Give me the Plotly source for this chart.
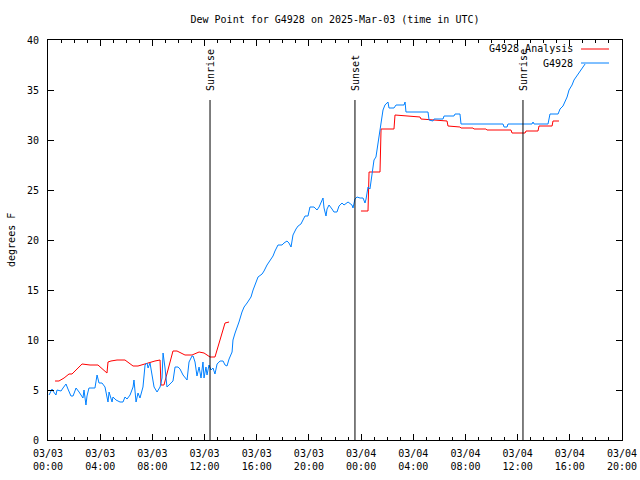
import plotly.graph_objects as go

# Observed dew point (G4928): hours since 2025-03-03 00:00 UTC, degrees F
obs_hours = [0.08, 0.31, 0.38, 0.61, 0.69, 1.00, 1.15, 1.38, 1.53, 1.76, 1.92, 2.15, 2.38, 2.61, 2.68,
             2.76, 2.91, 2.99, 3.14, 3.45, 3.60, 3.76, 3.91, 4.14, 4.37, 4.52, 4.60, 4.68, 4.91, 4.98,
             5.21, 5.52, 5.75, 5.90, 6.06, 6.29, 6.52, 6.59, 6.75, 6.90, 7.05, 7.28, 7.44, 7.59, 7.67,
             7.82, 7.97, 8.13, 8.36, 8.59, 8.74, 8.82, 8.97, 9.12, 9.35, 9.58, 9.74, 9.97, 10.12, 10.35,
             10.66, 10.81, 11.04, 11.12, 11.27, 11.42, 11.58, 11.73, 11.88, 11.96, 12.11, 12.19, 12.34,
             12.50, 12.65, 12.80, 12.96, 13.19, 13.42, 13.57, 13.72, 13.88, 14.11, 14.18, 14.34, 14.49,
             14.64, 14.87, 15.03, 15.26, 15.56, 15.72, 15.95, 16.10, 16.41, 16.56, 16.79, 17.02, 17.25,
             17.40, 17.63, 17.94, 18.09, 18.32, 18.47, 18.63, 18.78, 19.01, 19.17, 19.39, 19.55, 19.70,
             19.93, 20.08, 20.39, 20.62, 20.78, 20.93, 21.08, 21.16, 21.31, 21.39, 21.54, 21.77, 21.92,
             22.15, 22.31, 22.54, 22.69, 23.00, 23.30, 23.38, 23.53, 23.69, 23.92, 24.15, 24.30, 24.38,
             24.45, 24.53, 24.68, 24.76, 24.84, 24.91, 24.99, 25.14, 25.22, 25.30, 25.37, 25.45, 25.53,
             25.60, 25.68, 25.83, 25.99, 26.06, 26.14, 26.52, 26.68, 27.29, 27.37, 27.44, 27.90, 29.13,
             29.21, 29.51, 29.59, 30.28, 30.36, 31.12, 31.20, 31.58, 31.66, 34.88, 34.96, 35.19, 35.26,
             37.10, 37.18, 37.26, 38.33, 38.48, 39.10, 39.25, 39.48, 39.63, 39.79, 39.94, 40.17, 40.32,
             40.48, 40.63, 40.86, 41.01, 41.17]
obs_dew = [4.5, 5.1, 4.9, 4.5, 5.0, 4.9, 5.2, 5.6, 5.1, 4.4, 4.4, 5.2, 4.8, 4.3, 4.2,
           5.0, 3.5, 4.4, 5.2, 5.2, 5.2, 6.5, 5.7, 5.7, 5.3, 4.3, 3.8, 4.8, 3.8, 4.3,
           4.0, 3.8, 3.8, 4.3, 4.1, 4.5, 5.3, 6.0, 3.8, 4.7, 4.2, 5.3, 7.5, 7.7, 7.2,
           7.7, 6.6, 5.3, 4.8, 5.3, 6.2, 8.7, 7.2, 5.3, 5.6, 5.9, 7.3, 7.3, 7.1, 6.5,
           6.0, 7.8, 8.4, 8.4, 7.8, 6.4, 7.3, 6.2, 7.8, 6.2, 7.3, 6.5, 7.5,
           7.0, 7.2, 6.6, 7.6, 7.9, 7.9, 7.5, 7.4, 8.1, 8.8, 10.0, 10.7, 11.2,
           11.8, 12.8, 13.3, 13.7, 14.3, 15.0, 15.8, 16.3, 16.6, 16.9, 17.5, 17.9, 18.4,
           18.9, 19.5, 19.5, 19.7, 19.9, 19.7, 19.3, 20.5, 21.1, 21.4, 21.6, 22.0, 22.4,
           22.4, 23.3, 23.3, 23.0, 23.3, 23.7, 24.2, 23.2, 22.4, 23.1, 23.5, 23.1, 22.8,
           22.8, 23.4, 23.7, 23.5, 23.8, 23.5, 23.2, 24.1, 24.3, 24.2, 24.2, 23.7, 24.1,
           24.9, 25.3, 25.1, 25.8, 26.7, 27.0, 28.0, 28.3, 29.0, 29.7, 30.5, 31.2, 31.8,
           32.7, 33.0, 33.5, 33.7, 33.8, 33.2, 33.2, 33.5, 33.5, 33.8, 32.8, 32.8, 32.8,
           32.0, 31.9, 32.1, 32.1, 32.4, 32.4, 32.6, 32.6, 31.6, 31.6, 31.3, 31.3, 31.6,
           31.6, 31.8, 31.6, 31.6, 32.6, 32.6, 33.1, 33.4, 33.8, 34.3, 35.0, 35.5, 36.0,
           36.3, 36.7, 37.1, 37.4, 37.6]

# Analysis dew point (G4928 Analysis); None marks the gap
an_hours = [0.54, 0.84, 1.23, 1.61, 1.84, 2.61, 3.22, 3.83, 4.52, 4.60, 4.83, 5.29, 5.90, 6.52,
            6.90, 7.59, 8.20, 8.59, 8.66, 8.89, 9.58, 9.89, 10.50, 11.04, 11.58, 11.96, 12.42,
            12.80, 13.57, 13.88, 18.0,
            23.99, 24.53, 24.61, 25.45, 25.53, 26.52, 26.60, 27.60, 28.52, 28.59, 29.51, 30.59,
            30.66, 31.58, 31.66, 32.58, 32.65, 33.57, 33.65, 35.49, 35.57, 36.57, 36.64, 37.56,
            37.64, 38.64, 38.71, 39.17]
an_dew = [5.9, 5.9, 6.2, 6.6, 6.6, 7.6, 7.5, 7.5, 6.7, 7.8, 7.9, 8.0, 8.0, 7.4,
          7.4, 7.7, 7.9, 8.0, 5.5, 5.5, 8.9, 8.9, 8.5, 8.5, 8.8, 8.7, 8.3,
          8.3, 11.7, 11.8, None,
          22.9, 22.9, 26.8, 26.8, 31.1, 31.1, 32.5, 32.4, 32.3, 32.1, 32.0, 31.9,
          31.4, 31.3, 31.2, 31.2, 31.1, 31.1, 31.0, 31.0, 30.7, 30.7, 30.9, 30.9,
          31.4, 31.4, 31.9, 31.9]

sun_hours = [12.42, 23.53, 36.41]
sun_labels = ["Sunrise", "Sunset", "Sunrise"]
sun_line_top = 34

tick_hours = [0, 4, 8, 12, 16, 20, 24, 28, 32, 36, 40, 44]
tick_labels = ["03/03<br>00:00", "03/03<br>04:00", "03/03<br>08:00", "03/03<br>12:00",
               "03/03<br>16:00", "03/03<br>20:00", "03/04<br>00:00", "03/04<br>04:00",
               "03/04<br>08:00", "03/04<br>12:00", "03/04<br>16:00", "03/04<br>20:00"]

RED = "#ff0000"
BLUE = "#0080ff"
FONT = dict(family="DejaVu Sans Mono", size=10, color="black")

fig = go.Figure()
fig.add_trace(go.Scatter(x=an_hours, y=an_dew, mode="lines", name="G4928 Analysis",
                         line=dict(color=RED, width=1), connectgaps=False))
fig.add_trace(go.Scatter(x=obs_hours, y=obs_dew, mode="lines", name="G4928",
                         line=dict(color=BLUE, width=1)))

shapes = []
annotations = []
for h, lab in zip(sun_hours, sun_labels):
    shapes.append(dict(type="line", xref="x", yref="y", x0=h, x1=h, y0=0, y1=sun_line_top,
                       line=dict(color="black", width=1), layer="above"))
    annotations.append(dict(x=h, y=sun_line_top, xref="x", yref="y", text=lab, textangle=-90,
                            showarrow=False, xanchor="center", yanchor="bottom", yshift=7,
                            font=FONT))

# legend drawn gnuplot-style (text left, sample right)
leg = [("G4928 Analysis", RED, 0.9775), ("G4928", BLUE, 0.9425)]
for name, col, yy in leg:
    annotations.append(dict(x=0.918, y=yy, xref="paper", yref="paper", text=name,
                            showarrow=False, xanchor="right", yanchor="middle", font=FONT))
    shapes.append(dict(type="line", xref="paper", yref="paper", x0=0.9286, x1=0.9774,
                       y0=yy, y1=yy, line=dict(color=col, width=1)))

annotations.append(dict(x=-0.0645, y=0.5, xref="paper", yref="paper", text="degrees F",
                        textangle=-90, showarrow=False, xanchor="center", yanchor="middle",
                        font=FONT))

fig.update_layout(
    width=640, height=480,
    margin=dict(l=48, r=18, t=40, b=40, autoexpand=False),
    paper_bgcolor="white", plot_bgcolor="white",
    showlegend=False,
    font=FONT,
    title=dict(text="Dew Point for G4928 on 2025-Mar-03 (time in UTC)", x=0.5, xref="paper",
               xanchor="center", y=1 - 19 / 480, yanchor="middle", font=FONT, automargin=False),
    shapes=shapes, annotations=annotations,
)
fig.update_xaxes(range=[0, 44], tickvals=tick_hours, ticktext=tick_labels, automargin=False,
                 showgrid=False, zeroline=False, showline=True, linecolor="black", linewidth=1,
                 mirror="ticks", ticks="inside", ticklen=6, tickcolor="black",
                 minor=dict(dtick=1, ticks="inside", ticklen=3, tickcolor="black", showgrid=False),
                 ticklabelstandoff=4, tickfont=FONT)
fig.update_yaxes(range=[0, 40], dtick=5, tick0=0, automargin=False,
                 showgrid=False, zeroline=False, showline=True, linecolor="black", linewidth=1,
                 mirror="ticks", ticks="inside", ticklen=6, tickcolor="black",
                 ticklabelstandoff=6, tickfont=FONT)

fig.write_html("out.html", config={"displayModeBar": False},
               post_script="document.body.style.margin='0';")
